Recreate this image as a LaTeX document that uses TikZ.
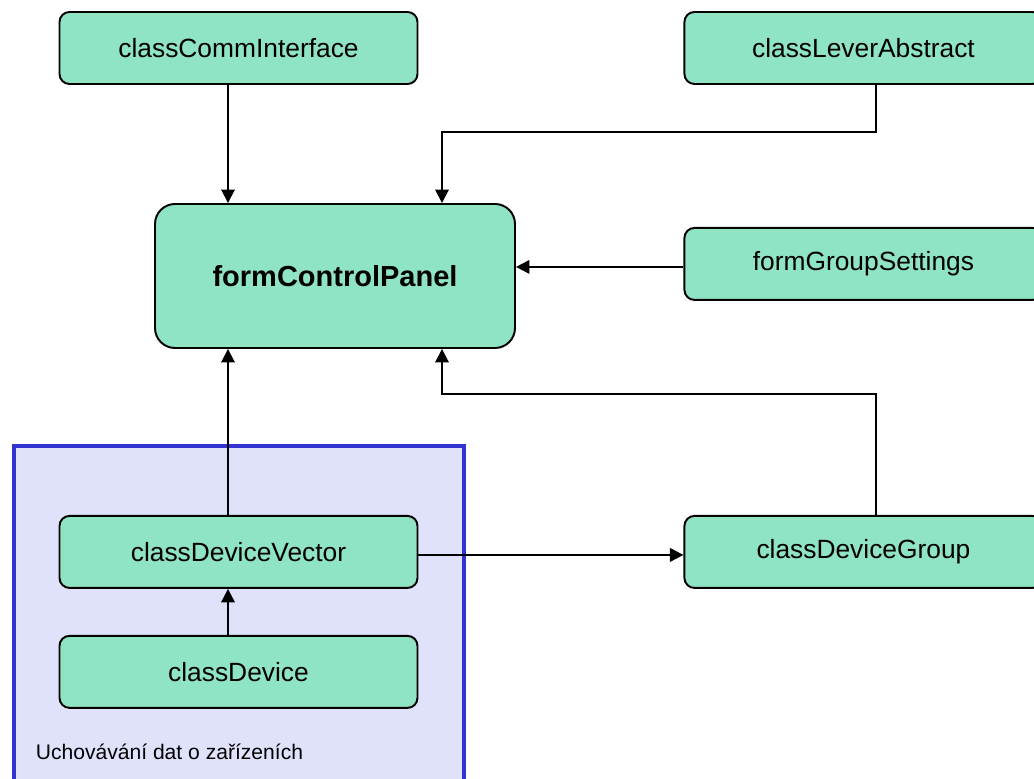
\documentclass[tikz,border=0pt]{standalone}
\usepackage{fontspec}
\setmainfont{Liberation Sans}
\usepackage{tikz}
\usetikzlibrary{positioning, arrows.meta}
\definecolor{boxgreen}{RGB}{143,228,196}
\definecolor{framefill}{RGB}{224,226,252}
\definecolor{frameblue}{RGB}{51,51,208}

\begin{document}
\begin{tikzpicture}[
    > = {Triangle[length=2.7mm, width=2.7mm]},
    line width = 1.1pt,
    node distance = 2cm,
    cls/.style = {rectangle, draw, fill = boxgreen, rounded corners = 2mm,
                  minimum width = 7.16cm, minimum height = 1.44cm, inner sep = 0pt,
                  font = \fontsize{15}{18}\selectfont},
    mainform/.style = {cls, rounded corners = 4mm, minimum width = 7.2cm,
                  minimum height = 2.88cm, font = \fontsize{16.5}{20}\bfseries\selectfont},
    storage/.style = {draw = frameblue, fill = framefill, line width = 2.3pt}
]
\useasboundingbox (0,0) rectangle (20.68,15.56);
\clip (0,0) rectangle (20.68,15.56);

% Frame
\draw[storage] (0.28,6.64) rectangle (9.28,-1);
\node[anchor = west, font = \fontsize{12}{14}\selectfont] (storeLabel) at (0.58,0.52) {Uchovávání dat o zařízeních};

% Classes
\node[cls]                       (comm)     at (4.77,14.60) {classCommInterface};
\node[cls, right = 5.3cm of comm] (lever)   {classLeverAbstract};
\node[mainform]                  (panel)    at (6.70,10.04) {formControlPanel};
\node[cls, below = 2.84cm of lever] (groupSet) {formGroupSettings};
\node[cls, below = 8.60cm of comm]  (vector)   {classDeviceVector};
\node[cls, below = 0.92cm of vector] (device)  {classDevice};
\node[cls, right = 5.3cm of vector]  (group)   {classDeviceGroup};

% Links
\draw[->] ([xshift=-2.1mm]comm.south) -- ([xshift=-2.1mm]comm.south |- panel.north);
\draw[->] ([xshift=2.6mm]lever.south) -- ++(0,-0.94) -| ([xshift=2.14cm]panel.north);
\draw[->] ([yshift=-0.6mm]groupSet.west) -- ([yshift=-0.6mm]panel.east |- groupSet.west);
\draw[->] ([xshift=-2.1mm]vector.north) -- ([xshift=-2.1mm]vector.north |- panel.south);
\draw[->] ([xshift=2.6mm]group.north) -- ++(0,2.42) -| ([xshift=2.14cm]panel.south);
\draw[->] ([yshift=-0.6mm]vector.east) -- ([yshift=-0.6mm]group.west);
\draw[->] ([xshift=-2.1mm]device.north) -- ([xshift=-2.1mm]vector.south);

\end{tikzpicture}
\end{document}
